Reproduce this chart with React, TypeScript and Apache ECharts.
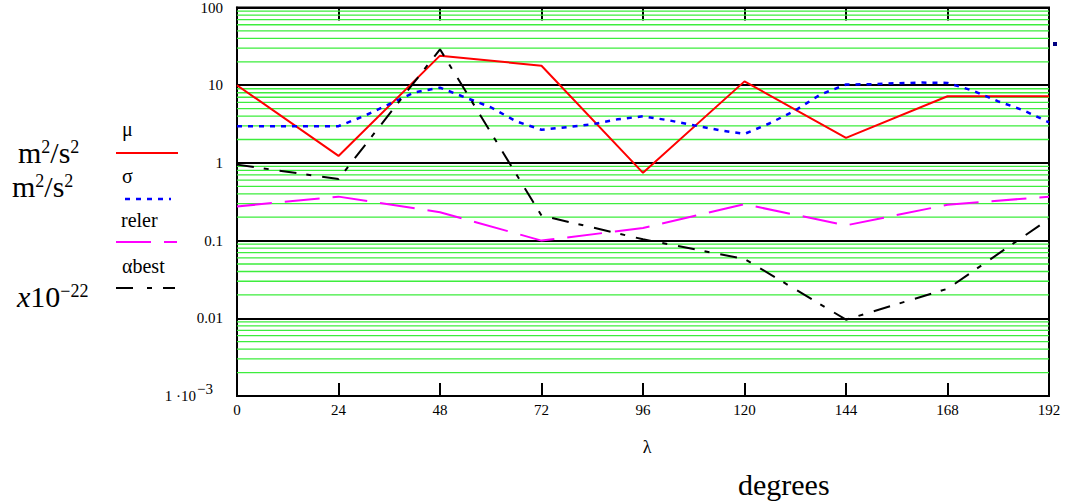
import React, { useEffect, useRef } from "react";
import * as echarts from "echarts";

// ---- data ----
const lambdaCoarse = [0, 24, 48, 72, 96, 120, 144, 168, 192];
const mu = [10, 1.23, 24, 17.8, 0.745, 11.2, 2.1, 7.2, 7.2];
const reler = [0.275, 0.368, 0.232, 0.1, 0.145, 0.294, 0.157, 0.289, 0.368];
const alphaBest = [0.95, 0.62, 29, 0.21, 0.104, 0.058, 0.0096, 0.024, 0.19];

const lambdaFine = [
  0, 6, 12, 18, 24, 30, 36, 42, 48, 54, 60, 66, 72, 78, 84, 90, 96, 102, 108,
  114, 120, 126, 132, 138, 144, 150, 156, 162, 168, 174, 180, 186, 192,
];
const sigma = [
  2.97, 2.97, 2.97, 2.97, 2.97, 4.0, 5.7, 8.1, 9.3, 6.95, 5.2, 3.43, 2.67, 2.88,
  3.14, 3.64, 3.98, 3.54, 3.05, 2.64, 2.36, 3.24, 4.74, 7.6, 10.2, 10.3, 10.6,
  10.8, 10.7, 8.5, 6.2, 4.74, 3.33,
];

const xTicks = { min: 0, max: 192, step: 24 };
const yTickLabels: Record<string, string> = {
  "2": "100",
  "1": "10",
  "0": "1",
  "-1": "0.1",
  "-2": "0.01",
};
const decades = [0.001, 0.01, 0.1, 1, 10];
const minorMultipliers = [2, 3, 4, 5, 6, 7, 8, 9];

const serif = "Liberation Serif";

export default function App() {
  const ref = useRef<HTMLDivElement>(null);
  useEffect(() => {
    if (!ref.current) return;
    const chart = echarts.init(ref.current, undefined, { renderer: "svg" });
    const pair = (xs: number[], ys: number[]) => xs.map((x, i) => [x, ys[i]]);

    // minor grid lines as one broken line series
    const minorData: any[] = [];
    for (const d of decades) {
      for (const k of minorMultipliers) {
        const v = +(k * d).toPrecision(3);
        minorData.push([xTicks.min, v], [xTicks.max, v], [xTicks.max, "-"]);
      }
    }

    const legendText = (t: string, x: number, y: number) => ({
      type: "text",
      x,
      y,
      style: {
        text: t,
        fill: "#000",
        fontFamily: serif,
        fontSize: 20,
        align: "left",
        textAlign: "left",
        verticalAlign: "middle",
        textVerticalAlign: "middle",
      },
    });
    const legendLine = (
      x1: number,
      x2: number,
      y: number,
      color: string,
      w: number,
      dash?: number[]
    ) => ({
      type: "line",
      shape: { x1, y1: y, x2, y2: y },
      style: { stroke: color, lineWidth: w, lineDash: dash || null },
    });
    const richText = (
      t: string,
      x: number,
      y: number,
      rich: Record<string, any>
    ) => ({
      type: "text",
      x,
      y,
      style: {
        text: t,
        rich,
        fill: "#000",
        align: "left",
        textAlign: "left",
        verticalAlign: "middle",
        textVerticalAlign: "middle",
      },
    });
    const unitRich = {
      a: { fontFamily: serif, fontSize: 30, lineHeight: 30, fill: "#000" },
      s: { fontFamily: serif, fontSize: 18, lineHeight: 22, verticalAlign: "top", fill: "#000" },
    };
    const expRich = {
      i: { fontFamily: serif, fontSize: 30, fontStyle: "italic", lineHeight: 30, fill: "#000" },
      a: { fontFamily: serif, fontSize: 30, lineHeight: 30, fill: "#000" },
      s: { fontFamily: serif, fontSize: 18, lineHeight: 16, verticalAlign: "top", fill: "#000" },
    };

    const option: any = {
      animation: false,
      backgroundColor: "#fff",
      grid: {
        left: 237,
        right: 24,
        top: 4,
        bottom: 108,
        show: true,
        borderColor: "#000",
        borderWidth: 2,
        backgroundColor: "transparent",
      },
      xAxis: [
        {
          type: "value",
          position: "bottom",
          min: xTicks.min,
          max: xTicks.max,
          interval: xTicks.step,
          axisLine: { show: true, onZero: false, lineStyle: { color: "#000", width: 2 } },
          axisTick: { show: true, inside: true, length: 13, lineStyle: { color: "#000", width: 2 } },
          axisLabel: {
            show: true,
            margin: 6,
            color: "#000",
            fontFamily: serif,
            fontSize: 15,
            showMinLabel: true,
            showMaxLabel: true,
          },
          splitLine: { show: false },
        },
        {
          type: "value",
          position: "top",
          min: xTicks.min,
          max: xTicks.max,
          interval: xTicks.step,
          axisLine: { show: true, onZero: false, lineStyle: { color: "#000", width: 2 } },
          axisTick: { show: true, inside: true, length: 13, lineStyle: { color: "#000", width: 2 } },
          axisLabel: { show: false },
          splitLine: { show: false },
        },
      ],
      yAxis: {
        type: "log",
        logBase: 10,
        min: 0.001,
        max: 100,
        axisLine: { show: true, lineStyle: { color: "#000", width: 2 } },
        axisTick: { show: false },
        splitLine: { show: true, lineStyle: { color: "#000", width: 2 } },
        axisLabel: {
          margin: 14,
          color: "#000",
          fontFamily: serif,
          fontSize: 15,
          showMinLabel: true,
          showMaxLabel: true,
          formatter: (v: number) => {
            const e = Math.round(Math.log10(v));
            if (e === -3) return "{a|1 ·10}{b|−3}";
            return yTickLabels[String(e)] ?? "";
          },
          rich: {
            a: { fontFamily: serif, fontSize: 15, lineHeight: 30, color: "#000" },
            b: {
              fontFamily: serif,
              fontSize: 15,
              lineHeight: 14,
              verticalAlign: "top",
              color: "#000",
              padding: [0, 10, 0, 1],
            },
          },
        },
      },
      series: [
        {
          name: "grid",
          type: "line",
          data: minorData,
          connectNulls: false,
          showSymbol: false,
          symbol: "none",
          silent: true,
          lineStyle: { color: "#3ded3d", width: 1.3 },
          z: 1,
        },
        {
          name: "μ",
          type: "line",
          data: pair(lambdaCoarse, mu),
          showSymbol: false,
          symbol: "none",
          lineStyle: { color: "#ff0000", width: 2 },
          z: 3,
        },
        {
          name: "σ",
          type: "line",
          data: pair(lambdaFine, sigma),
          showSymbol: false,
          symbol: "none",
          lineStyle: { color: "#0000ff", width: 2.5, type: [5, 6] },
          z: 3,
        },
        {
          name: "reler",
          type: "line",
          data: pair(lambdaCoarse, reler),
          showSymbol: false,
          symbol: "none",
          lineStyle: { color: "#ff00ff", width: 2, type: [35, 13] },
          z: 3,
        },
        {
          name: "αbest",
          type: "line",
          data: pair(lambdaCoarse, alphaBest),
          showSymbol: false,
          symbol: "none",
          lineStyle: { color: "#000000", width: 2, type: [17, 10, 5, 11] },
          z: 3,
        },
      ],
      graphic: [
        richText("{a|m}{s|2}{a|/s}{s|2}", 18, 152.5, unitRich),
        richText("{a|m}{s|2}{a|/s}{s|2}", 12, 186.5, unitRich),
        richText("{i|x}{a|10}{s|−22}", 17, 296.5, expRich),
        legendText("μ", 122, 129),
        legendLine(116, 178, 153, "#ff0000", 2),
        legendText("σ", 122, 176),
        legendLine(125, 171, 199, "#0000ff", 2.5, [5, 6]),
        legendText("reler", 121, 220),
        legendLine(116, 177, 242, "#ff00ff", 2, [35, 13]),
        legendText("αbest", 122, 266),
        legendLine(116, 175, 288, "#000000", 2, [17, 14, 5, 11]),
        {
          type: "text",
          x: 647,
          y: 447,
          style: {
            text: "λ",
            fill: "#000",
            fontFamily: serif,
            fontSize: 18,
            align: "center",
            textAlign: "center",
            verticalAlign: "middle",
            textVerticalAlign: "middle",
          },
        },
        {
          type: "text",
          x: 738,
          y: 484.5,
          style: {
            text: "degrees",
            fill: "#000",
            fontFamily: serif,
            fontSize: 30,
            align: "left",
            textAlign: "left",
            verticalAlign: "middle",
            textVerticalAlign: "middle",
          },
        },
        {
          type: "rect",
          shape: { x: 1053, y: 42, width: 4, height: 4 },
          style: { fill: "#000080" },
        },
      ],
    };
    chart.setOption(option);
    return () => chart.dispose();
  }, []);
  return (
    <div
      ref={ref}
      style={{ position: "fixed", left: 0, top: 0, width: 1073, height: 504 }}
    />
  );
}
